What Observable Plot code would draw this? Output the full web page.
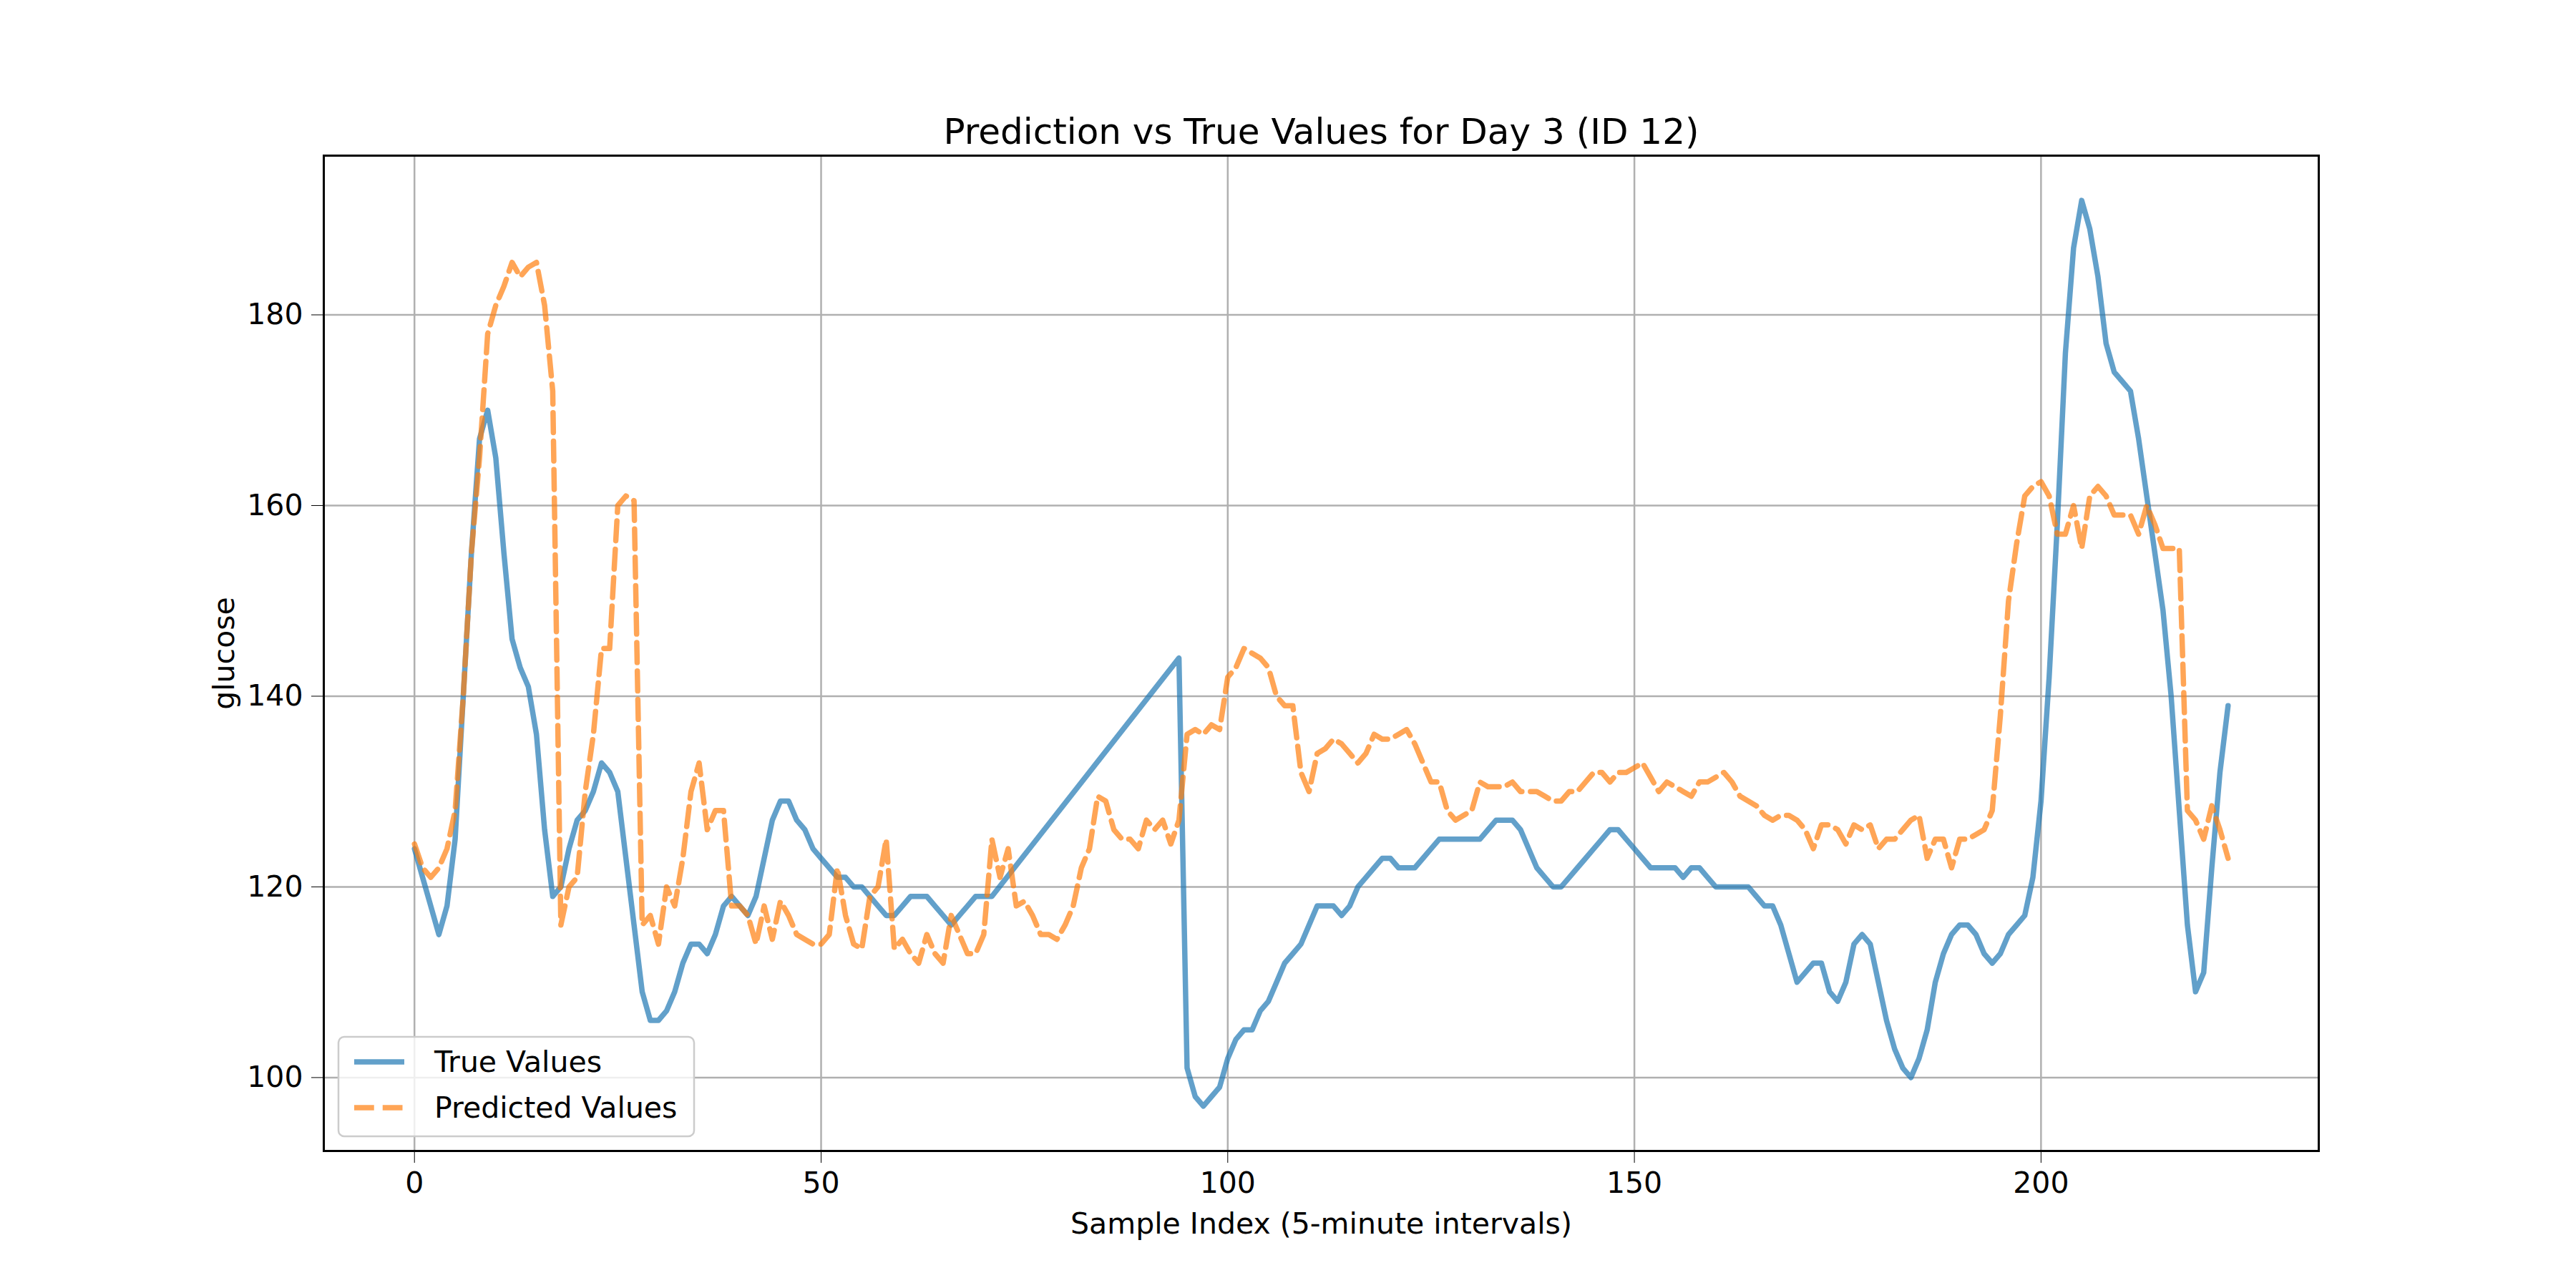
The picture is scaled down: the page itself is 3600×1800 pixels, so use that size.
<!DOCTYPE html>
<html><head><meta charset="utf-8">
<script src="https://cdn.jsdelivr.net/npm/d3@7"></script>
<script src="https://cdn.jsdelivr.net/npm/@observablehq/plot@0.6"></script>
<style>body{margin:0;background:#fff}</style>
</head><body><div id="c"></div>
<script>
const trueIdx = [...d3.range(0,72), ...d3.range(94,224)];
const trueVals = [124,121,118,115,118,125,140,155,167,170,165,155,146,143,141,136,126,119,120,124,127,128,130,133,132,130,123,116,109,106,106,107,109,112,114,114,113,115,118,119,118,117,119,123,127,129,129,127,126,124,123,122,121,121,120,120,119,118,117,117,118,119,119,119,118,117,116,117,118,119,119,119,
144,101,98,97,98,99,102,104,105,105,107,108,110,112,113,114,116,118,118,118,117,118,120,121,122,123,123,122,122,122,123,124,125,125,125,125,125,125,126,127,127,127,126,124,122,121,120,120,121,122,123,124,125,126,126,125,124,123,122,122,122,122,121,122,122,121,120,120,120,120,120,119,118,118,116,113,110,111,112,112,109,108,110,114,115,114,110,106,103,101,100,102,105,110,113,115,116,116,115,113,112,113,115,116,117,121,129,142,158,176,187,192,189,184,177,174,173,172,167,161,155,149,140,128,116,109,111,122,132,139];
const predVals = [124.5,122,121,122,124,128,140,155,165,178,181,183,185.5,184,185,185.5,181,172,116,120,121,130,136,145,145,160,161,160.5,116,117,114,120,118,123,130,133,126,128,128,118,118,117,114,118,114.5,118.5,117,115,114.5,114,114,115,122,117,114,113.5,119,120,125,113.5,114.5,113,112,115,113,112,117,115,113,113,115,125,121,124,118,118.5,117,115,115,114.5,116,118,122,124,129.5,129,126,125,125,124,127,126,127,124.5,127,136,136.5,136,137,136.5,142,143,145,144.5,144,143,140,139,139,132,130,134,134.5,135.5,135,134,133,134,136,135.5,135.5,136,136.5,135,133,131,131,128,127,127.5,128,131,130.5,130.5,130.5,131,130,130,130,129.5,129,129,130,130,131,132,132,131,132,132,132.5,133,131.5,130,131,130.5,130,129.5,131,131,131.5,132,131,129.5,129,128.5,127.5,127,127.5,127.5,127,126,124,126.5,126.5,126,124.5,126.5,126,126.5,124,125,125,126,127,127.5,123,125,125,122,125,125,125.5,126,128,138,150,156,161,162,162.5,161,157,157,160,155.5,161,162,161,159,159,159,157,160,158,155.5,155.5,155.5,128,127,125,128.5,126,123];
const xTicks = [0,50,100,150,200];
const yTicks = [100,120,140,160,180];
const trueData = trueIdx.map((x,i)=>({x,y:trueVals[i]}));
const predData = predVals.map((y,x)=>({x,y}));
const font = "'DejaVu Sans', sans-serif";
const chart = Plot.plot({
  width:3600, height:1800,
  marginLeft:452, marginRight:360, marginTop:217, marginBottom:192,
  style:{fontFamily:font, fontSize:"41px", color:"#000", background:"#fff"},
  x:{domain:[-11.15,234.15], ticks:xTicks, tickSize:17, tickPadding:12, label:"Sample Index (5-minute intervals)", labelAnchor:"center", labelArrow:"none", labelOffset:115},
  y:{domain:[92.3,196.7], ticks:yTicks, tickSize:17, tickPadding:12, label:"glucose", labelAnchor:"center", labelArrow:"none", labelOffset:155},
  marks:[
    Plot.gridX(xTicks,{stroke:"#b0b0b0", strokeOpacity:1, strokeWidth:2.5}),
    Plot.gridY(yTicks,{stroke:"#b0b0b0", strokeOpacity:1, strokeWidth:2.5}),
    Plot.line(trueData,{x:"x",y:"y",stroke:"#1f77b4",strokeOpacity:0.7,strokeWidth:7.5}),
    Plot.line(predData,{x:"x",y:"y",stroke:"#ff7f0e",strokeOpacity:0.7,strokeWidth:7.5,strokeDasharray:"27.75,12",strokeLinejoin:"round"}),
    Plot.frame({stroke:"#000", strokeWidth:3}),
    Plot.text(["Prediction vs True Values for Day 3 (ID 12)"],{frameAnchor:"top",dy:-52,fontSize:50,fill:"#000"})
  ]
});
document.getElementById("c").appendChild(chart);
const svg = d3.select(chart);
const g = svg.append("g").attr("font-family",font).attr("font-size",41).attr("text-anchor","start");
g.append("rect").attr("x",473).attr("y",1449).attr("width",497).attr("height",139).attr("rx",8)
 .attr("fill","#fff").attr("fill-opacity",0.8).attr("stroke","#ccc").attr("stroke-width",2.5);
const legend=[["True Values","#1f77b4","none"],["Predicted Values","#ff7f0e","27.75,12"]];
legend.forEach(([t,c,d],i)=>{
  const y=1484+i*64;
  g.append("line").attr("x1",495).attr("x2",565).attr("y1",y).attr("y2",y)
    .style("stroke",c).style("stroke-opacity",0.7).style("stroke-width","7.5px").style("stroke-dasharray",d);
  g.append("text").attr("x",607).attr("y",y).attr("dy","0.35em").attr("text-anchor","start").style("fill","#000").text(t);
});
</script></body></html>
